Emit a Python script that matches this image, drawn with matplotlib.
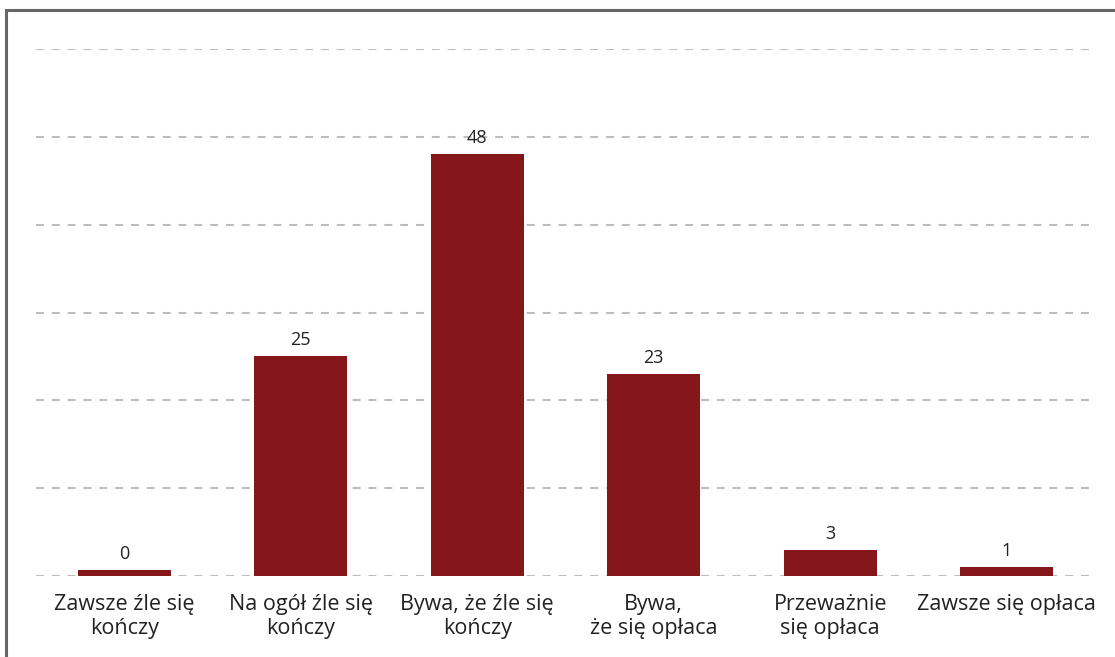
import matplotlib
matplotlib.use("Agg")
import matplotlib.pyplot as plt
from matplotlib.patches import Rectangle

categories = [
    "Zawsze źle się\nkończy",
    "Na ogół źle się\nkończy",
    "Bywa, że źle się\nkończy",
    "Bywa,\nże się opłaca",
    "Przeważnie\nsię opłaca",
    "Zawsze się opłaca",
]
values = [0, 25, 48, 23, 3, 1]
y_ticks = [0, 10, 20, 30, 40, 50, 60]

BAR_COLOR = "#85161a"
GRID_COLOR = "#bdbdbd"
TEXT_COLOR = "#222222"
FONT = ["Open Sans", "DejaVu Sans"]

W, H, DPI = 1115, 657, 100
fig = plt.figure(figsize=(W / DPI, H / DPI), dpi=DPI)
plt.rcParams["font.family"] = FONT

left, right, top, bottom = 36, 1095, 49, 576
ax = fig.add_axes([left / W, (H - bottom) / H, (right - left) / W, (bottom - top) / H])
ax.set_xlim(-0.5, len(values) - 0.5)
ax.set_ylim(y_ticks[0], y_ticks[-1])

# minimum visible bar height (in pixels), so zero values still show a stub
px_per_unit = (bottom - top) / (y_ticks[-1] - y_ticks[0])
min_len = 6 / px_per_unit
heights = [max(v, min_len) for v in values]

x = list(range(len(values)))
ax.bar(x, heights, width=0.527, color=BAR_COLOR, zorder=3)

for xi, v, h in zip(x, values, heights):
    ax.annotate(str(v), (xi, h), xytext=(0, 5), textcoords="offset points",
                ha="center", va="bottom", fontsize=13, color=TEXT_COLOR)

for yv in y_ticks:
    ax.axhline(yv, color=GRID_COLOR, lw=1.5, ls=(0, (3.8, 3.8)), zorder=1)

for s in ax.spines.values():
    s.set_visible(False)
ax.set_yticks([])
ax.set_xticks(x)
ax.set_xticklabels(categories, fontsize=15.5, color=TEXT_COLOR, linespacing=1.18)
ax.tick_params(axis="x", length=0, pad=13)

# outer frame
fig.patches.append(Rectangle((5.5 / W, -0.1), 1.2, (H - 10) / H + 0.1,
                             transform=fig.transFigure, fill=False,
                             edgecolor="#666666", lw=2.2))

fig.savefig("out.png", dpi=DPI)
